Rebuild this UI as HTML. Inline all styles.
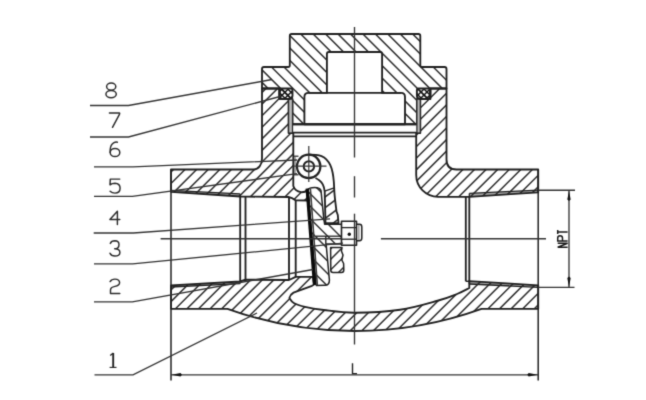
<!DOCTYPE html>
<html><head><meta charset="utf-8"><style>
html,body{margin:0;padding:0;background:#fff;width:646px;height:400px;overflow:hidden;}
svg{display:block;font-family:"Liberation Sans",sans-serif;}
</style></head><body>
<svg width="646" height="400" viewBox="0 0 646 400"><defs><filter id="bl" x="0" y="0" width="646" height="400" filterUnits="userSpaceOnUse" color-interpolation-filters="sRGB"><feConvolveMatrix order="3" kernelMatrix="0.01917 0.10012 0.01917 0.10012 0.52283 0.10012 0.01917 0.10012 0.01917" divisor="1" edgeMode="duplicate"/></filter><clipPath id="c1"><path d="M262 88.5 L262 69 Q262 67 264 67 L288 67 Q289.8 67 289.8 65.2 L289.8 35.9 Q289.8 34 291.7 34 L418.4 34 Q420.3 34 420.3 35.9 L420.3 65.2 Q420.3 67 422.1 67 L444.5 67 Q446.5 67 446.5 69 L446.5 88.5 L430.3 88.5 L430.3 98.9 L416.9 98.9 L416.9 124.2 L292.5 124.2 L292.5 98.9 L279.5 98.9 L279.5 88.5 Z M304.4 124.2 L304.4 97 Q304.4 92.9 308.5 92.9 L326.9 92.9 L326.9 54 Q326.9 52 328.9 52 L380.1 52 Q382.1 52 382.1 54 L382.1 92.9 L401 92.9 Q405 92.9 405 97 L405 124.2 Z" clip-rule="evenodd"/></clipPath><clipPath id="c2"><path d="M171 169.5 L253.5 169.5 C258.5 169.5 262 165 262 158.5 L262 88.5 L279.5 88.5 L279.5 98.9 L288.6 98.9 L288.6 133 L293.3 133 L293.3 186 Q295 191 301 192.2 Q305 192.5 307.4 190 L308.8 200.5 L295.5 200.3 Q292 197.5 288.5 197 L245.5 196.6 L240.2 196.5 L171 191.8 Z" clip-rule="nonzero"/></clipPath><clipPath id="c3"><path d="M430.3 88.5 L446.5 88.5 L446.5 159.5 Q446.5 169.5 456.5 169.5 L538.2 169.5 L538.2 192.4 L469.3 196.8 L438 196.8 A21.8 21.8 0 0 1 416.2 175 L416.2 133 L420.3 133 L420.3 98.9 L430.3 98.9 Z" clip-rule="nonzero"/></clipPath><clipPath id="c4"><path d="M171 285.4 L240.2 281.5 L245.5 279.7 L289 280 L295.7 276.9 L313 276.9 L314 284.5 L312 285.8 L293.5 292.6 Q290.2 294.5 289.4 298 C290.12 298.83 291.15 301.52 293.75 303.00C296.35 304.48 300.00 305.73 305.00 306.90C310.00 308.07 315.50 309.03 323.75 310.00C332.00 310.97 341.79 312.74 354.50 312.70C367.21 312.66 386.17 311.74 400.00 309.75C413.83 307.76 428.00 303.38 437.50 300.75C447.00 298.12 451.70 296.12 457.00 294.00C462.30 291.88 467.25 289.00 469.30 288.00 L469.3 281.2 L538.2 285.3 L538.2 308.8 L481.5 308.8 A375 375 0 0 1 227.5 308.8 L171 308.8 Z" clip-rule="nonzero"/></clipPath><clipPath id="c5"><path d="M281.0 88.5 L291.0 88.5 Q292.5 88.5 292.5 90 L292.5 95.6 Q292.5 99 289.1 99 L282.9 99 Q279.5 99 279.5 95.6 L279.5 90 Q279.5 88.5 281.0 88.5 Z" clip-rule="nonzero"/></clipPath><clipPath id="c6"><path d="M281.0 88.5 L291.0 88.5 Q292.5 88.5 292.5 90 L292.5 95.6 Q292.5 99 289.1 99 L282.9 99 Q279.5 99 279.5 95.6 L279.5 90 Q279.5 88.5 281.0 88.5 Z" clip-rule="nonzero"/></clipPath><clipPath id="c7"><path d="M418.4 88.5 L428.8 88.5 Q430.3 88.5 430.3 90 L430.3 95.6 Q430.3 99 426.90000000000003 99 L420.29999999999995 99 Q416.9 99 416.9 95.6 L416.9 90 Q416.9 88.5 418.4 88.5 Z" clip-rule="nonzero"/></clipPath><clipPath id="c8"><path d="M418.4 88.5 L428.8 88.5 Q430.3 88.5 430.3 90 L430.3 95.6 Q430.3 99 426.90000000000003 99 L420.29999999999995 99 Q416.9 99 416.9 95.6 L416.9 90 Q416.9 88.5 418.4 88.5 Z" clip-rule="nonzero"/></clipPath><clipPath id="c9"><path d="M324.6 191.2 L334.3 187.8 L334.6 195 L336.5 211.5 L337.8 215 L338.5 223.2 L325.5 223.2 Z" clip-rule="nonzero"/></clipPath><clipPath id="c10"><path d="M307.8 190 Q309 187.5 314.6 187.5 Q320 187.5 321 190.5 L323.6 217 L324.6 224.2 L341.5 224.2 L341.5 244 L326 244 L326.3 246 L329.4 280 Q329.5 285.2 325 285.3 L316 285.4 Z" clip-rule="nonzero"/></clipPath><clipPath id="c11"><path d="M330.6 247.5 L342 247.5 L341.4 251 L343 255 L341.8 260 L343.6 263.5 L343.8 270 Q343.8 272.5 341.5 272.5 L333 272.5 Q330.8 272.5 330.8 270.3 Z" clip-rule="nonzero"/></clipPath></defs><rect width="646" height="400" fill="white"/><g filter="url(#bl)"><rect width="646" height="400" fill="white"/><path d="M171 190.4 L240.2 193.9 L240.2 196.5 L171 191.8 Z" fill="#a8a8a8"/>
<path d="M171 287.0 L240.2 283.6 L240.2 281.5 L171 285.4 Z" fill="#a8a8a8"/>
<path d="M538.2 190.2 L469.3 193.4 L469.3 196.6 L538.2 192.4 Z" fill="#a8a8a8"/>
<path d="M538.2 287.3 L469.3 284.0 L469.3 281.2 L538.2 285.2 Z" fill="#a8a8a8"/>
<g clip-path="url(#c1)"><path d="M132.07 2.17L431.33 301.43M138.29 -4.05L437.55 295.21M144.51 -10.27L443.77 288.99M150.73 -16.49L449.99 282.77M156.95 -22.71L456.21 276.55M163.17 -28.93L462.43 270.33M169.39 -35.15L468.65 264.11M175.61 -41.37L474.87 257.89M181.83 -47.59L481.09 251.67M188.05 -53.81L487.31 245.45M194.27 -60.03L493.53 239.23M200.49 -66.25L499.75 233.01M206.71 -72.47L505.97 226.79M212.93 -78.69L512.19 220.57M219.15 -84.91L518.41 214.35M225.37 -91.13L524.63 208.13M231.59 -97.35L530.85 201.91M237.81 -103.57L537.07 195.69M244.03 -109.79L543.29 189.47M250.25 -116.01L549.51 183.25M256.47 -122.23L555.73 177.03M262.69 -128.45L561.95 170.81M268.91 -134.67L568.17 164.59M275.13 -140.89L574.39 158.37" stroke="#2e2e2e" stroke-width="1.5" fill="none"/></g>
<g clip-path="url(#c2)"><path d="M303.37 -53.04L42.96 207.37M309.16 -47.25L48.75 213.16M314.95 -41.46L54.54 218.95M320.74 -35.67L60.33 224.74M326.53 -29.88L66.12 230.53M332.32 -24.09L71.91 236.32M338.11 -18.30L77.70 242.11M343.90 -12.51L83.49 247.90M349.69 -6.72L89.28 253.69M355.47 -0.93L95.07 259.47M361.26 4.85L100.85 265.26M367.05 10.64L106.64 271.05M372.84 16.43L112.43 276.84M378.63 22.22L118.22 282.63M384.42 28.01L124.01 288.42M390.21 33.80L129.80 294.21M396.00 39.59L135.59 300.00M401.79 45.38L141.38 305.79M407.58 51.17L147.17 311.58M413.36 56.96L152.96 317.36M419.15 62.74L158.74 323.15M424.94 68.53L164.53 328.94M430.73 74.32L170.32 334.73M436.52 80.11L176.11 340.52" stroke="#2e2e2e" stroke-width="1.5" fill="none"/></g>
<g clip-path="url(#c3)"><path d="M534.20 -40.73L293.77 199.70M539.99 -34.94L299.56 205.49M545.78 -29.15L305.35 211.28M551.57 -23.36L311.14 217.07M557.36 -17.57L316.93 222.86M563.15 -11.78L322.72 228.65M568.94 -5.99L328.51 234.44M574.73 -0.21L334.29 240.23M580.52 5.58L340.08 246.02M586.31 11.37L345.87 251.81M592.09 17.16L351.66 257.59M597.88 22.95L357.45 263.38M603.67 28.74L363.24 269.17M609.46 34.53L369.03 274.96M615.25 40.32L374.82 280.75M621.04 46.11L380.61 286.54M626.83 51.90L386.40 292.33M632.62 57.68L392.18 298.12M638.41 63.47L397.97 303.91M644.20 69.26L403.76 309.70M649.98 75.05L409.55 315.48M655.77 80.84L415.34 321.27M661.56 86.63L421.13 327.06" stroke="#2e2e2e" stroke-width="1.5" fill="none"/></g>
<g clip-path="url(#c4)"><path d="M511.19 -73.30L-22.30 460.19M516.98 -67.51L-16.51 465.98M522.77 -61.73L-10.73 471.77M528.56 -55.94L-4.94 477.56M534.35 -50.15L0.85 483.35M540.13 -44.36L6.64 489.13M545.92 -38.57L12.43 494.92M551.71 -32.78L18.22 500.71M557.50 -26.99L24.01 506.50M563.29 -21.20L29.80 512.29M569.08 -15.41L35.59 518.08M574.87 -9.62L41.38 523.87M580.66 -3.84L47.16 529.66M586.45 1.95L52.95 535.45M592.24 7.74L58.74 541.24M598.02 13.53L64.53 547.02M603.81 19.32L70.32 552.81M609.60 25.11L76.11 558.60M615.39 30.90L81.90 564.39M621.18 36.69L87.69 570.18M626.97 42.48L93.48 575.97M632.76 48.27L99.27 581.76M638.55 54.05L105.05 587.55M644.34 59.84L110.84 593.34M650.13 65.63L116.63 599.13M655.91 71.42L122.42 604.91M661.70 77.21L128.21 610.70M667.49 83.00L134.00 616.49M673.28 88.79L139.79 622.28M679.07 94.58L145.58 628.07M684.86 100.37L151.37 633.86M690.65 106.16L157.16 639.65M696.44 111.94L162.94 645.44M702.23 117.73L168.73 651.23M708.02 123.52L174.52 657.02M713.80 129.31L180.31 662.80M719.59 135.10L186.10 668.59M725.38 140.89L191.89 674.38M731.17 146.68L197.68 680.17" stroke="#2e2e2e" stroke-width="1.5" fill="none"/></g>
<path d="M262 88.5 L262 69 Q262 67 264 67 L288 67 Q289.8 67 289.8 65.2 L289.8 35.9 Q289.8 34 291.7 34 L418.4 34 Q420.3 34 420.3 35.9 L420.3 65.2 Q420.3 67 422.1 67 L444.5 67 Q446.5 67 446.5 69 L446.5 88.5 L430.3 88.5 L430.3 98.9 L416.9 98.9 L416.9 124.2 L292.5 124.2 L292.5 98.9 L279.5 98.9 L279.5 88.5 Z" stroke="#202020" stroke-width="1.85" fill="none" stroke-linejoin="round" />
<path d="M304.4 124.2 L304.4 97 Q304.4 92.9 308.5 92.9 L326.9 92.9 L326.9 54 Q326.9 52 328.9 52 L380.1 52 Q382.1 52 382.1 54 L382.1 92.9 L401 92.9 Q405 92.9 405 97 L405 124.2 Z" stroke="#202020" stroke-width="1.85" fill="none" stroke-linejoin="round" />
<line x1="308.5" y1="92.9" x2="401" y2="92.9" stroke="#202020" stroke-width="1.85"/>
<path d="M171 169.5 L253.5 169.5 C258.5 169.5 262 165 262 158.5 L262 88.5 L279.5 88.5 L279.5 98.9 L288.6 98.9 L288.6 133 L293.3 133 L293.3 186 Q295 191 301 192.2 Q305 192.5 307.4 190 L308.8 200.5 L295.5 200.3 Q292 197.5 288.5 197 L245.5 196.6 L240.2 196.5 L171 191.8 Z" stroke="#202020" stroke-width="1.85" fill="none" stroke-linejoin="round" />
<path d="M430.3 88.5 L446.5 88.5 L446.5 159.5 Q446.5 169.5 456.5 169.5 L538.2 169.5 L538.2 192.4 L469.3 196.8 L438 196.8 A21.8 21.8 0 0 1 416.2 175 L416.2 133 L420.3 133 L420.3 98.9 L430.3 98.9 Z" stroke="#202020" stroke-width="1.85" fill="none" stroke-linejoin="round" />
<path d="M171 285.4 L240.2 281.5 L245.5 279.7 L289 280 L295.7 276.9 L313 276.9 L314 284.5 L312 285.8 L293.5 292.6 Q290.2 294.5 289.4 298 C290.12 298.83 291.15 301.52 293.75 303.00C296.35 304.48 300.00 305.73 305.00 306.90C310.00 308.07 315.50 309.03 323.75 310.00C332.00 310.97 341.79 312.74 354.50 312.70C367.21 312.66 386.17 311.74 400.00 309.75C413.83 307.76 428.00 303.38 437.50 300.75C447.00 298.12 451.70 296.12 457.00 294.00C462.30 291.88 467.25 289.00 469.30 288.00 L469.3 281.2 L538.2 285.3 L538.2 308.8 L481.5 308.8 A375 375 0 0 1 227.5 308.8 L171 308.8 Z" stroke="#202020" stroke-width="1.85" fill="none" stroke-linejoin="round" />
<line x1="171" y1="169.5" x2="171" y2="380.5" stroke="#202020" stroke-width="1.5"/>
<line x1="538.2" y1="169.5" x2="538.2" y2="380.5" stroke="#202020" stroke-width="1.5"/>
<line x1="171" y1="190.4" x2="240.2" y2="193.9" stroke="#202020" stroke-width="1.3"/>
<line x1="240.2" y1="193.9" x2="240.2" y2="196.5" stroke="#202020" stroke-width="1.3"/>
<line x1="171" y1="287.0" x2="240.2" y2="283.6" stroke="#202020" stroke-width="1.3"/>
<line x1="240.2" y1="283.6" x2="240.2" y2="281.5" stroke="#202020" stroke-width="1.3"/>
<line x1="538.2" y1="190.2" x2="469.3" y2="193.4" stroke="#202020" stroke-width="1.3"/>
<line x1="469.3" y1="193.4" x2="469.3" y2="196.6" stroke="#202020" stroke-width="1.3"/>
<line x1="538.2" y1="287.3" x2="469.3" y2="284.0" stroke="#202020" stroke-width="1.3"/>
<line x1="469.3" y1="284.0" x2="469.3" y2="281.2" stroke="#202020" stroke-width="1.3"/>
<line x1="240.2" y1="196.5" x2="240.2" y2="281" stroke="#202020" stroke-width="1.85"/>
<line x1="245.5" y1="196.5" x2="245.5" y2="281" stroke="#202020" stroke-width="1.85"/>
<line x1="465.8" y1="196.5" x2="465.8" y2="281.3" stroke="#202020" stroke-width="1.85"/>
<line x1="469.3" y1="196.5" x2="469.3" y2="281.3" stroke="#202020" stroke-width="1.85"/>
<line x1="465.8" y1="281.3" x2="469.3" y2="281.3" stroke="#202020" stroke-width="1.4"/>
<line x1="292.5" y1="124.2" x2="416.9" y2="124.2" stroke="#202020" stroke-width="1.85"/>
<line x1="292.5" y1="132.6" x2="416.9" y2="132.6" stroke="#202020" stroke-width="1.85"/>
<line x1="293.3" y1="136.4" x2="416.2" y2="136.4" stroke="#202020" stroke-width="1.85"/>
<rect x="288.6" y="99.8" width="3.90" height="32.6" fill="#bcbcbc"/>
<line x1="288.6" y1="98.9" x2="288.6" y2="133" stroke="#2a2a2a" stroke-width="1.3"/>
<line x1="292.5" y1="98.9" x2="292.5" y2="133" stroke="#2a2a2a" stroke-width="1.3"/>
<rect x="416.9" y="99.8" width="3.40" height="32.6" fill="#bcbcbc"/>
<line x1="416.9" y1="98.9" x2="416.9" y2="133" stroke="#2a2a2a" stroke-width="1.3"/>
<line x1="420.3" y1="98.9" x2="420.3" y2="133" stroke="#2a2a2a" stroke-width="1.3"/>
<line x1="289" y1="197" x2="289" y2="280" stroke="#202020" stroke-width="1.85"/>
<line x1="295.7" y1="200.3" x2="295.7" y2="277" stroke="#202020" stroke-width="1.85"/>
<g clip-path="url(#c5)"><path d="M294.53 70.67L262.92 102.28M297.53 73.67L265.92 105.28M300.53 76.67L268.92 108.28M303.53 79.67L271.92 111.28M306.53 82.67L274.92 114.28M309.53 85.67L277.92 117.28" stroke="#151515" stroke-width="1.45" fill="none"/></g>
<g clip-path="url(#c6)"><path d="M261.47 86.67L293.08 118.28M264.47 83.67L296.08 115.28M267.47 80.67L299.08 112.28M270.47 77.67L302.08 109.28M273.47 74.67L305.08 106.28M276.47 71.67L308.08 103.28" stroke="#151515" stroke-width="1.45" fill="none"/></g>
<path d="M281.0 88.5 L291.0 88.5 Q292.5 88.5 292.5 90 L292.5 95.6 Q292.5 99 289.1 99 L282.9 99 Q279.5 99 279.5 95.6 L279.5 90 Q279.5 88.5 281.0 88.5 Z" stroke="#202020" stroke-width="1.9" fill="none" stroke-linejoin="round" />
<g clip-path="url(#c7)"><path d="M431.45 69.55L399.40 101.60M434.45 72.55L402.40 104.60M437.45 75.55L405.40 107.60M440.45 78.55L408.40 110.60M443.45 81.55L411.40 113.60M446.45 84.55L414.40 116.60" stroke="#151515" stroke-width="1.45" fill="none"/></g>
<g clip-path="url(#c8)"><path d="M401.15 84.15L433.20 116.20M404.15 81.15L436.20 113.20M407.15 78.15L439.20 110.20M410.15 75.15L442.20 107.20M413.15 72.15L445.20 104.20M416.15 69.15L448.20 101.20" stroke="#151515" stroke-width="1.45" fill="none"/></g>
<path d="M418.4 88.5 L428.8 88.5 Q430.3 88.5 430.3 90 L430.3 95.6 Q430.3 99 426.90000000000003 99 L420.29999999999995 99 Q416.9 99 416.9 95.6 L416.9 90 Q416.9 88.5 418.4 88.5 Z" stroke="#202020" stroke-width="1.9" fill="none" stroke-linejoin="round" />
<circle cx="308.7" cy="166.4" r="11.7" stroke="#202020" stroke-width="2.2" fill="white"/>
<circle cx="308.9" cy="166.4" r="5.2" stroke="#202020" stroke-width="2.0" fill="none"/>
<line x1="308.8" y1="146" x2="308.8" y2="182" stroke="#333333" stroke-width="1.2"/>
<line x1="293.5" y1="166.2" x2="326.5" y2="166.2" stroke="#333333" stroke-width="1.2"/>
<g clip-path="url(#c9)"><path d="M353.77 153.92L275.59 212.56M358.93 160.80L280.75 219.44M364.09 167.68L285.91 226.32M369.25 174.56L291.07 233.20M374.41 181.44L296.23 240.08M379.57 188.32L301.39 246.96M384.73 195.20L306.55 253.84" stroke="#2e2e2e" stroke-width="1.5" fill="none"/></g>
<path d="M308.7 154.6 C309.92 154.65 313.87 154.63 316.00 154.90C318.13 155.17 319.78 155.45 321.50 156.20C323.22 156.95 324.83 157.90 326.30 159.40C327.77 160.90 329.25 163.02 330.30 165.20C331.35 167.38 332.02 169.78 332.60 172.50C333.18 175.22 333.47 177.75 333.80 181.50C334.13 185.25 334.15 190.00 334.60 195.00C335.05 200.00 336.18 208.75 336.50 211.50 L337.8 215 L338.5 223.2 L325.5 223.2 L324.7 191.3 Q323.8 183.5 319.5 180.5 Q317.5 179 315.5 178" stroke="#202020" stroke-width="1.85" fill="none" stroke-linejoin="round" />
<line x1="293.3" y1="156.2" x2="298.5" y2="156.2" stroke="#202020" stroke-width="1.2"/>
<line x1="293.3" y1="174.8" x2="298.5" y2="174.8" stroke="#202020" stroke-width="1.2"/>
<line x1="295.0" y1="156.2" x2="295.0" y2="174.8" stroke="#555" stroke-width="1.0"/>
<line x1="324.6" y1="191.2" x2="334.3" y2="187.8" stroke="#202020" stroke-width="1.3"/>
<g clip-path="url(#c10)"><path d="M209.63 193.13L367.87 351.37M215.88 186.88L374.12 345.12M222.13 180.63L380.37 338.87M228.38 174.38L386.62 332.62M234.63 168.13L392.87 326.37M240.88 161.88L399.12 320.12M247.13 155.63L405.37 313.87M253.38 149.38L411.62 307.62M259.63 143.13L417.87 301.37M265.88 136.88L424.12 295.12M272.13 130.63L430.37 288.87M278.38 124.38L436.62 282.62M284.63 118.13L442.87 276.37" stroke="#2e2e2e" stroke-width="1.5" fill="none"/></g>
<path d="M316 285.4 L307.8 190 Q309 187.5 314.6 187.5 Q320 187.5 321 190.5 L323.6 217 L324.6 224.2 L341.5 224.2" stroke="#202020" stroke-width="1.5" fill="none" stroke-linejoin="round" />
<path d="M316 236.2 L341.5 236.2" stroke="#202020" stroke-width="1.3" fill="none" stroke-linejoin="round" />
<path d="M325.8 236.2 L325.8 244 L341.5 244" stroke="#202020" stroke-width="1.4" fill="none" stroke-linejoin="round" />
<path d="M326.1 244 L326.3 246 L329.4 280 Q329.5 285.2 325 285.3 L316 285.4" stroke="#202020" stroke-width="1.5" fill="none" stroke-linejoin="round" />
<line x1="307.2" y1="188.5" x2="314.6" y2="285" stroke="#0a0a0a" stroke-width="3.4"/>
<line x1="310.4" y1="189" x2="317.3" y2="285" stroke="#3a3a3a" stroke-width="1.6"/>
<g clip-path="url(#c11)"><path d="M349.34 219.66L296.66 272.34M354.59 224.91L301.91 277.59M359.84 230.16L307.16 282.84M365.09 235.41L312.41 288.09M370.34 240.66L317.66 293.34M375.59 245.91L322.91 298.59" stroke="#2e2e2e" stroke-width="1.5" fill="none"/></g>
<path d="M330.6 247.5 L342 247.5 L341.4 251 L343 255 L341.8 260 L343.6 263.5 L343.8 270 Q343.8 272.5 341.5 272.5 L333 272.5 Q330.8 272.5 330.8 270.3 Z" stroke="#202020" stroke-width="1.5" fill="none" stroke-linejoin="round" />
<path d="M341.5 221.3 L356.5 221.3 L356.5 245.3 L341.5 245.3 Z" stroke="#202020" stroke-width="1.6" fill="none" stroke-linejoin="round" />
<line x1="341.5" y1="227.6" x2="356.5" y2="227.6" stroke="#202020" stroke-width="1.3"/>
<line x1="341.5" y1="239.2" x2="356.5" y2="239.2" stroke="#202020" stroke-width="1.3"/>
<line x1="358.9" y1="225" x2="358.9" y2="240" stroke="#666" stroke-width="0.9"/>
<path d="M356.5 224.3 L359.5 224.3 Q361.8 224.3 361.8 227 L361.8 238 Q361.8 240.7 359.5 240.7 L356.5 240.7" stroke="#202020" stroke-width="1.5" fill="none" stroke-linejoin="round" />
<circle cx="349.3" cy="234.3" r="1.7" fill="#111"/>
<line x1="354.5" y1="27" x2="354.5" y2="157.5" stroke="#333333" stroke-width="1.35"/>
<line x1="354.5" y1="176.2" x2="354.5" y2="197.5" stroke="#333333" stroke-width="1.35"/>
<line x1="354.5" y1="213.7" x2="354.5" y2="344.5" stroke="#333333" stroke-width="1.35"/>
<line x1="160.6" y1="238.7" x2="341.5" y2="238.7" stroke="#333333" stroke-width="1.35"/>
<line x1="380.9" y1="238.7" x2="546" y2="238.7" stroke="#333333" stroke-width="1.35"/>
<path d="M90 105.5 L128.5 105.5 L272 79.5" stroke="#333333" stroke-width="1.35" fill="none"/>
<path d="M90 137 L128.5 137 L280 96.5" stroke="#333333" stroke-width="1.35" fill="none"/>
<path d="M94 166.9 L133 166.9 L297 160" stroke="#333333" stroke-width="1.35" fill="none"/>
<path d="M94 196.4 L132.4 196.4 L297 173.7" stroke="#333333" stroke-width="1.35" fill="none"/>
<path d="M93.7 233 L133.3 233 L330 218.9" stroke="#333333" stroke-width="1.35" fill="none"/>
<path d="M94 263.9 L132.7 263.9 L343 243.2" stroke="#333333" stroke-width="1.35" fill="none"/>
<path d="M94 301.8 L132.4 301.8 L313 269.5" stroke="#333333" stroke-width="1.35" fill="none"/>
<path d="M94.5 374.9 L133 374.9 L257 313" stroke="#333333" stroke-width="1.35" fill="none"/>
<line x1="171" y1="374.8" x2="538.2" y2="374.8" stroke="#333333" stroke-width="1.35"/>
<path d="M171.5 374.8 L180.5 373.1 L182 374.8 L180.5 376.5 Z" fill="#111"/>
<path d="M537.7 374.8 L528.7 373.1 L527.2 374.8 L528.7 376.5 Z" fill="#111"/>
<path d="M352.5 363.2 L352.5 373.6 L357 373.6" stroke="#222" stroke-width="1.4" fill="none"/>
<line x1="538.2" y1="190.2" x2="575" y2="190.2" stroke="#333333" stroke-width="1.35"/>
<line x1="538.2" y1="287.4" x2="574.5" y2="287.4" stroke="#333333" stroke-width="1.35"/>
<line x1="569" y1="190.2" x2="569" y2="287.4" stroke="#333333" stroke-width="1.35"/>
<path d="M569 190.7 L567.3 199.5 L569 201 L570.7 199.5 Z" fill="#111"/>
<path d="M569 286.9 L567.3 278.1 L569 276.6 L570.7 278.1 Z" fill="#111"/>
<g transform="translate(567.6 248) rotate(-90)" stroke="#1a1a1a" stroke-width="1.5" fill="none" stroke-linejoin="miter"><path d="M0.7 0 L0.7 -9.9 L4.7 0 L4.7 -9.9"/><path d="M6.9 0 L6.9 -9.9 L9.9 -9.9 Q12.2 -9.9 12.2 -7.5 Q12.2 -5.1 9.9 -5.1 L6.9 -5.1"/><path d="M13.9 -9.9 L17.9 -9.9 M15.9 -9.9 L15.9 0"/></g>
<ellipse cx="111.2" cy="86.5" rx="4.6" ry="3.6" stroke="#2b2b2b" stroke-width="1.45" fill="none" stroke-linecap="round" stroke-linejoin="round"/><ellipse cx="111.1" cy="94.1" rx="5.2" ry="3.7" stroke="#2b2b2b" stroke-width="1.45" fill="none" stroke-linecap="round" stroke-linejoin="round"/>
<path d="M109.4 113 L119.6 113 Q119.9 113.6 119.3 114.6 L112.5 127.3" stroke="#2b2b2b" stroke-width="1.45" fill="none" stroke-linecap="round" stroke-linejoin="round"/>
<path d="M117.4 142.2 Q115.5 141.8 113.6 142.8 Q110.6 144.6 110.2 149.5 L110.2 152.5" stroke="#2b2b2b" stroke-width="1.45" fill="none" stroke-linecap="round" stroke-linejoin="round"/><ellipse cx="115" cy="152.5" rx="4.8" ry="4.1" stroke="#2b2b2b" stroke-width="1.45" fill="none" stroke-linecap="round" stroke-linejoin="round"/>
<path d="M119.8 179.1 L110.3 179.1 L110 184.9 Q112 183.3 115 183.3 Q120.1 183.5 120.1 188.3 Q120 193.1 115 193.1 Q112 193.1 110.1 191.3" stroke="#2b2b2b" stroke-width="1.45" fill="none" stroke-linecap="round" stroke-linejoin="round"/>
<path d="M117.4 224.4 L117.4 211.2 L109.9 219.4 L119.8 219.4" stroke="#2b2b2b" stroke-width="1.45" fill="none" stroke-linecap="round" stroke-linejoin="round"/>
<path d="M110.3 243.4 Q111.3 240.8 114.9 240.8 Q119 240.9 119 244.4 Q119 248.6 114.7 248.8 Q119.9 248.9 119.9 252.4 Q119.8 256 115 256 Q111.2 256 110 253.2" stroke="#2b2b2b" stroke-width="1.45" fill="none" stroke-linecap="round" stroke-linejoin="round"/>
<path d="M110.1 281.6 Q111.5 279.1 114.9 279.1 Q119.6 279.2 119.6 282.7 Q119.5 285.5 114.9 286.4 Q110.5 287.3 110.5 290 L110.5 293.4 L119.8 293.4" stroke="#2b2b2b" stroke-width="1.45" fill="none" stroke-linecap="round" stroke-linejoin="round"/>
<path d="M113.2 353 L113.2 367.2" stroke="#222" stroke-width="1.9" fill="none"/>
<path d="M113.4 353 L110.2 355.6" stroke="#222" stroke-width="1.3" fill="none"/>
<path d="M109.6 367.4 L116.5 367.4" stroke="#222" stroke-width="1.1" fill="none"/></g></svg>
</body></html>
